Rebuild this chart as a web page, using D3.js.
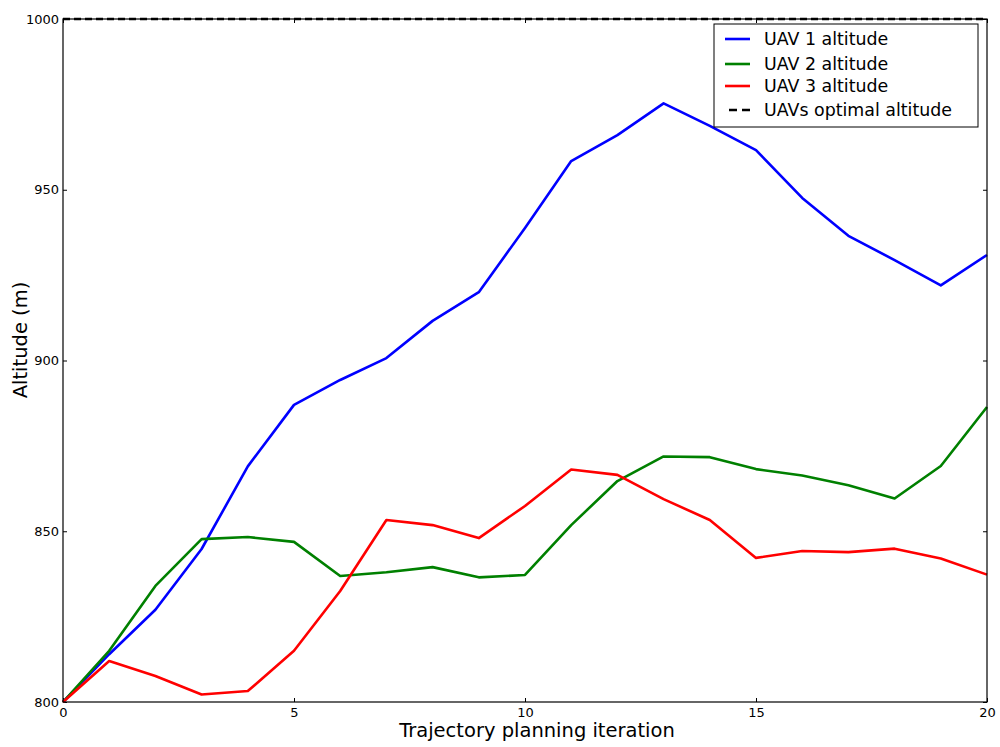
<!DOCTYPE html>
<html>
<head>
<meta charset="utf-8">
<script src="https://cdn.jsdelivr.net/npm/d3@7"></script>
<style>
  body { margin: 0; background: #fff; }
  text { font-family: "DejaVu Sans", sans-serif; }
</style>
</head>
<body>
<svg id="chart" width="1000" height="747"></svg>
<script>
const iterations = d3.range(0, 21);
const uav1 = [800, 814, 827, 844.8, 869, 887, 894.3, 900.7, 911.6, 920, 938.8, 958.4, 966, 975.3, 968.7, 961.6, 947.6, 936.5, 929.4, 922, 930.9];
const uav2 = [800, 815, 834, 847.7, 848.3, 846.9, 836.9, 838, 839.5, 836.5, 837.2, 851.8, 864.7, 871.9, 871.7, 868.2, 866.3, 863.5, 859.6, 869.1, 886.4];
const uav3 = [800, 812, 807.6, 802.2, 803.2, 815, 832.5, 853.3, 851.8, 848, 857.4, 868.1, 866.5, 859.4, 853.3, 842.2, 844.2, 843.9, 844.9, 842, 837.3];
const optimal = 1000;
const seriesNames = ["UAV 1 altitude", "UAV 2 altitude", "UAV 3 altitude", "UAVs optimal altitude"];
const seriesColors = ["#0000ff", "#008000", "#ff0000", "#000000"];
const xTicks = [0, 5, 10, 15, 20];
const yTicks = [800, 850, 900, 950, 1000];

const margin = {top: 19, right: 13, bottom: 45, left: 63};
const svg = d3.select("#chart");
const width = +svg.attr("width") - margin.left - margin.right;
const height = +svg.attr("height") - margin.top - margin.bottom;

const x = d3.scaleLinear().domain([0, 20]).range([0, width]);
const y = d3.scaleLinear().domain([800, 1000]).range([height, 0]);

const g = svg.append("g").attr("transform", `translate(${margin.left},${margin.top})`);

// axes with inward ticks on all four sides
function styleAxis(sel) {
  sel.select(".domain").remove();
  sel.selectAll(".tick line").attr("stroke", "#000");
  sel.selectAll(".tick text").style("font-size", "13px").attr("fill", "#000");
}
g.append("g").attr("transform", `translate(0,${height})`)
  .call(d3.axisBottom(x).tickValues(xTicks).tickSizeInner(-4).tickPadding(6).tickFormat(d3.format("d")))
  .call(styleAxis);
g.append("g")
  .call(d3.axisLeft(y).tickValues(yTicks).tickSizeInner(-4).tickPadding(4).tickFormat(d3.format("d")))
  .call(styleAxis);
g.append("g")
  .call(d3.axisTop(x).tickValues(xTicks).tickSizeInner(-4).tickFormat(""))
  .call(styleAxis);
g.append("g").attr("transform", `translate(${width},0)`)
  .call(d3.axisRight(y).tickValues(yTicks).tickSizeInner(-4).tickFormat(""))
  .call(styleAxis);

const line = d3.line().x((d, i) => x(iterations[i])).y(d => y(d));
[uav1, uav2, uav3].forEach((s, i) => {
  g.append("path").datum(s)
    .attr("fill", "none")
    .attr("stroke", seriesColors[i])
    .attr("stroke-width", 2.6)
    .attr("stroke-linejoin", "round")
    .attr("d", line);
});
g.append("line")
  .attr("x1", x(0)).attr("x2", x(20))
  .attr("y1", y(optimal)).attr("y2", y(optimal))
  .attr("stroke", "#000").attr("stroke-width", 2.6)
  .attr("stroke-dasharray", "7,4");

g.append("rect").attr("width", width).attr("height", height)
  .attr("fill", "none").attr("stroke", "#000").attr("stroke-width", 1.2);

// legend
const lg = g.append("g").attr("transform", `translate(${651},${5})`);
lg.append("rect").attr("width", 264).attr("height", 103)
  .attr("fill", "#fff").attr("stroke", "#000").attr("stroke-width", 1);
const rowY = [15, 40, 62, 86];
seriesNames.forEach((name, i) => {
  const dashed = i === 3;
  lg.append("line")
    .attr("x1", dashed ? 15 : 11).attr("x2", 36)
    .attr("y1", rowY[i]).attr("y2", rowY[i])
    .attr("stroke", seriesColors[i]).attr("stroke-width", 2.6)
    .attr("stroke-dasharray", dashed ? "8,5" : null);
  lg.append("text").attr("x", 50).attr("y", rowY[i]).attr("dy", "0.35em")
    .style("font-size", "17.4px").text(name);
});

svg.append("text")
  .attr("x", 537).attr("y", 737)
  .attr("text-anchor", "middle").style("font-size", "19.5px")
  .text("Trajectory planning iteration");
svg.append("text")
  .attr("transform", `translate(27,340) rotate(-90)`)
  .attr("text-anchor", "middle").style("font-size", "19.5px")
  .text("Altitude (m)");
</script>
</body>
</html>
